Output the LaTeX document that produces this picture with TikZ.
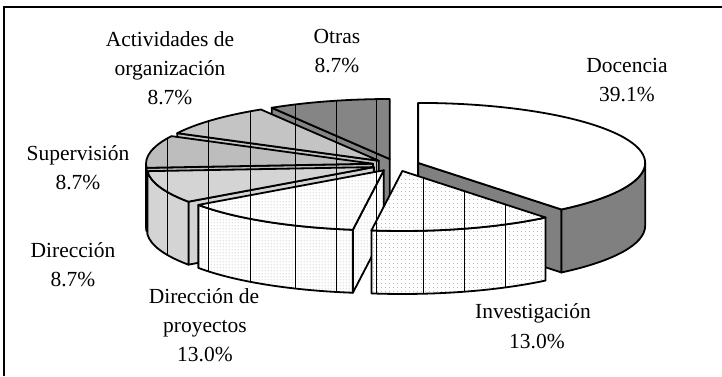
\documentclass[tikz,border=0pt]{standalone}
\usepackage{fontspec}
\setmainfont{Liberation Serif}
\usetikzlibrary{calc,patterns}

\pgfdeclarepatternformonly{dotsA}{\pgfpointorigin}{\pgfpoint{4pt}{4pt}}{\pgfpoint{4pt}{4pt}}{\pgfpathcircle{\pgfpoint{2pt}{2pt}}{0.5pt}\pgfusepath{fill}}
\pgfdeclarepatternformonly{dotsB}{\pgfpointorigin}{\pgfpoint{3pt}{3pt}}{\pgfpoint{3pt}{3pt}}{\pgfpathcircle{\pgfpoint{1.5pt}{1.5pt}}{0.55pt}\pgfusepath{fill}}

\definecolor{docside}{gray}{0.5}

% face with fill, the vertical tile lines, and a black outline
\newcommand\pface[2]{%
  \path[#1] #2;
  \begin{scope}
    \clip #2;
    \foreach \vx in {126,167.7,208.3,250,295,336.7,376.7,423.3,464,505.7}
      \draw[line width=0.7pt] (\vx,0) -- (\vx,376);
  \end{scope}
  \draw[edge] #2;
}

\begin{document}
\begin{tikzpicture}[x=1pt,y=1pt,
  edge/.style={draw=black,line width=1.8pt,line join=round},
  lbl/.style={font=\fontsize{21.5}{26}\selectfont,anchor=base,inner sep=0pt},
  invf/.style={fill=white,postaction={pattern=dotsA,pattern color=black!45}},
  dpf/.style={fill=white,postaction={pattern=dotsB,pattern color=black!45}},
  dirf/.style={fill=black!17},
  supf/.style={fill=black!26},
  actf/.style={fill=black!23},
  otrf/.style={fill=black!48}]
\useasboundingbox (0,0) rectangle (722,376);
\fill[white] (0,0) rectangle (722,376);
\draw[line width=1.2pt] (4,0) -- (4,369) -- (722,369);

\coordinate (C) at (396,211);
\coordinate (Adoc) at ($(C)+(19.565:23.5pt and 6.21pt)$);
\coordinate (Ainv) at ($(C)+(-74.35:23.5pt and 6.21pt)$);
\coordinate (Adp)  at ($(C)+(-121.30:23.5pt and 6.21pt)$);
\coordinate (Adir) at ($(C)+(-160.43:23.5pt and 6.21pt)$);
\coordinate (Asup) at ($(C)+(168.26:23.5pt and 6.21pt)$);
\coordinate (Aact) at ($(C)+(136.96:23.5pt and 6.21pt)$);
\coordinate (Aot)  at ($(C)+(105.65:23.5pt and 6.21pt)$);

% Otras
\pface{otrf}{(Aot) -- ++(121.3:227pt and 60pt) -- ++(0,-63pt) -- ($(Aot)+(0,-63pt)$) -- cycle}
\pface{otrf}{(Aot) -- ++(90:227pt and 60pt) arc[start angle=90,end angle=121.3,x radius=227pt,y radius=60pt] -- cycle}
% Actividades
\pface{actf}{(Aact) -- ++(152.61:227pt and 60pt) -- ++(0,-63pt) -- ($(Aact)+(0,-63pt)$) -- cycle}
\pface{actf}{(Aact) -- ++(121.3:227pt and 60pt) arc[start angle=121.3,end angle=152.61,x radius=227pt,y radius=60pt] -- cycle}
% Supervision
\pface{supf}{(Asup) -- ++(183.91:227pt and 60pt) -- ++(0,-63pt) -- ($(Asup)+(0,-63pt)$) -- cycle}
\pface{supf}{($(Asup)+(180:227pt and 60pt)$) arc[start angle=180,end angle=183.91,x radius=227pt,y radius=60pt] -- ++(0,-63pt) arc[start angle=183.91,end angle=180,x radius=227pt,y radius=60pt] -- cycle}
\pface{supf}{(Asup) -- ++(152.61:227pt and 60pt) arc[start angle=152.61,end angle=183.91,x radius=227pt,y radius=60pt] -- cycle}
% Direccion
\pface{dirf}{(Adir) -- ++(-144.78:227pt and 60pt) -- ++(0,-63pt) -- ($(Adir)+(0,-63pt)$) -- cycle}
\pface{dirf}{($(Adir)+(-176.09:227pt and 60pt)$) arc[start angle=-176.09,end angle=-144.78,x radius=227pt,y radius=60pt] -- ++(0,-63pt) arc[start angle=-144.78,end angle=-176.09,x radius=227pt,y radius=60pt] -- cycle}
\pface{dirf}{(Adir) -- ++(-176.09:227pt and 60pt) arc[start angle=-176.09,end angle=-144.78,x radius=227pt,y radius=60pt] -- cycle}
% Direccion de proyectos
\pface{dpf}{(Adp) -- ++(-97.83:227pt and 60pt) -- ++(0,-63pt) -- ($(Adp)+(0,-63pt)$) -- cycle}
\pface{dpf}{($(Adp)+(-144.78:227pt and 60pt)$) arc[start angle=-144.78,end angle=-97.83,x radius=227pt,y radius=60pt] -- ++(0,-63pt) arc[start angle=-97.83,end angle=-144.78,x radius=227pt,y radius=60pt] -- cycle}
\pface{dpf}{(Adp) -- ++(-144.78:227pt and 60pt) arc[start angle=-144.78,end angle=-97.83,x radius=227pt,y radius=60pt] -- cycle}
% Docencia
\draw[edge,fill=docside] (Adoc) -- ++(-50.87:227pt and 60pt) -- ++(0,-63pt) -- ($(Adoc)+(0,-63pt)$) -- cycle;
\draw[edge,fill=docside] ($(Adoc)+(-50.87:227pt and 60pt)$) arc[start angle=-50.87,end angle=0,x radius=227pt,y radius=60pt] -- ++(0,-63pt) arc[start angle=0,end angle=-50.87,x radius=227pt,y radius=60pt] -- cycle;
\draw[edge,fill=white] (Adoc) -- ++(-50.87:227pt and 60pt) arc[start angle=-50.87,end angle=90,x radius=227pt,y radius=60pt] -- cycle;
% Investigacion
\pface{invf}{($(Ainv)+(-97.83:227pt and 60pt)$) arc[start angle=-97.83,end angle=-50.87,x radius=227pt,y radius=60pt] -- ++(0,-63pt) arc[start angle=-50.87,end angle=-97.83,x radius=227pt,y radius=60pt] -- cycle}
\pface{invf}{(Ainv) -- ++(-97.83:227pt and 60pt) arc[start angle=-97.83,end angle=-50.87,x radius=227pt,y radius=60pt] -- cycle}

% labels
\node[lbl] (otA) at (337,333) {Otras};
\node[lbl] (otB) at (337,304) {8.7\%};
\node[lbl] (acA) at (170,330) {Actividades de};
\node[lbl] (acB) at (170,301) {organización};
\node[lbl] (acC) at (170,272) {8.7\%};
\node[lbl] (doA) at (627,303.3) {Docencia};
\node[lbl] (doB) at (627,274.3) {39.1\%};
\node[lbl] (suA) at (78,216) {Supervisión};
\node[lbl] (suB) at (78,187) {8.7\%};
\node[lbl] (diA) at (73,119) {Dirección};
\node[lbl] (diB) at (73,90) {8.7\%};
\node[lbl] (dpA) at (204,73) {Dirección de};
\node[lbl] (dpB) at (205,44) {proyectos};
\node[lbl] (dpC) at (205,15) {13.0\%};
\node[lbl] (inA) at (533,58) {Investigación};
\node[lbl] (inB) at (537,28) {13.0\%};
\end{tikzpicture}
\end{document}
